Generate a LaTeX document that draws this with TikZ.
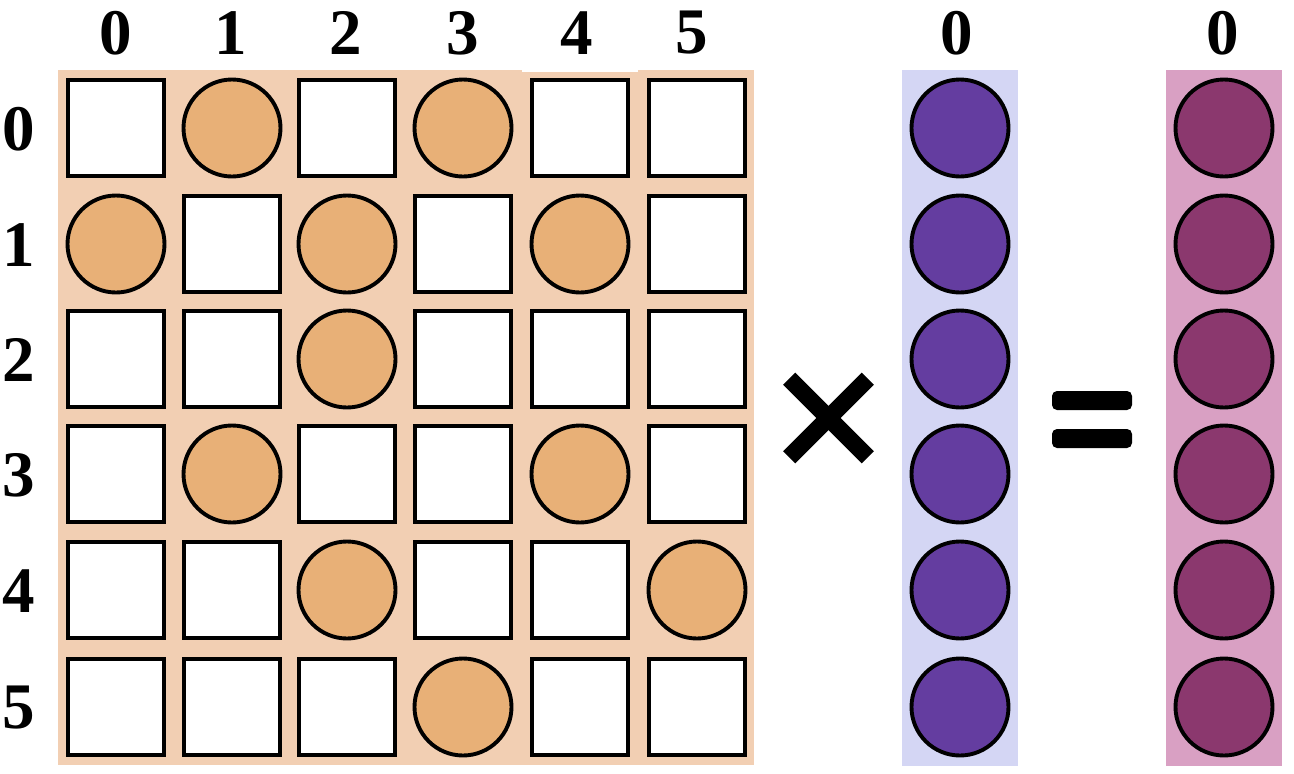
\documentclass[tikz,border=0pt]{standalone}
\usepackage{fontspec}
\setmainfont{Liberation Serif}
\newfontfamily\idxfont{Liberation Serif Bold}
\definecolor{matbg}{HTML}{F2CFB3}
\definecolor{matdot}{HTML}{E8B077}
\definecolor{vecbg}{HTML}{D4D6F4}
\definecolor{vecdot}{HTML}{643DA0}
\definecolor{resbg}{HTML}{D9A0C3}
\definecolor{resdot}{HTML}{8B386E}
\tikzset{
  cellbox/.style={draw=black, line width=4.3pt, fill=white, minimum size=95.7pt, inner sep=0pt, outer sep=0pt},
  dot/.style={circle, draw=black, line width=3.9pt, minimum size=97pt, inner sep=0pt, outer sep=0pt},
  idx/.style={font=\idxfont\fontsize{65}{65}\selectfont, inner sep=0pt}
}
\begin{document}
\begin{tikzpicture}[x=1pt,y=-1pt]
\useasboundingbox (0,0) rectangle (1294,774);
% backgrounds
\fill[matbg] (58,70) rectangle (754,765);
\fill[white] (522,70) rectangle (638,72);
\fill[vecbg] (902,70) rectangle (1018,766);
\fill[resbg] (1166,70) rectangle (1282,766);
% grid
\def\colx{{116,232,347,463,580,697}}
\def\rowy{{128,244,359,474,590,707}}
\foreach \r/\pat in {0/{0,1,0,1,0,0},1/{1,0,1,0,1,0},2/{0,0,1,0,0,0},3/{0,1,0,0,1,0},4/{0,0,1,0,0,1},5/{0,0,0,1,0,0}}{
  \foreach \t [count=\ci from 0] in \pat{
    \pgfmathsetmacro{\xx}{\colx[\ci]}
    \pgfmathsetmacro{\yy}{\rowy[\r]}
    \ifnum\t=1
      \node[dot, fill=matdot] (m-\r-\ci) at (\xx,\yy) {};
    \else
      \node[cellbox] (m-\r-\ci) at (\xx,\yy) {};
    \fi
  }
}
% column labels
\foreach \c/\lx in {0/116,1/231,2/346,3/463,4/577,5/692}{
  \node[idx] (cl-\c) at (\lx,33) {\c};
}
% row labels
\foreach \r in {0,...,5}{
  \pgfmathsetmacro{\yy}{\rowy[\r]+1}
  \node[idx] (rl-\r) at (19,\yy) {\r};
}
% vector and result
\foreach \r in {0,...,5}{
  \pgfmathsetmacro{\yy}{\rowy[\r]}
  \node[dot, fill=vecdot] (v-\r) at (960,\yy) {};
  \node[dot, fill=resdot] (res-\r) at (1224,\yy) {};
}
\node[idx] (vl) at (957,33) {0};
\node[idx] (rsl) at (1223,33) {0};
% times sign
\coordinate (tc) at (828.5,418);
\draw[line width=17pt, line cap=butt] ([shift={(-39.3,-39.3)}]tc) -- ([shift={(39.3,39.3)}]tc);
\draw[line width=17pt, line cap=butt] ([shift={(-39.3,39.3)}]tc) -- ([shift={(39.3,-39.3)}]tc);
% equals sign
\fill[black, rounded corners=5pt] (1052,391) rectangle (1132,410);
\fill[black, rounded corners=5pt] (1052,429) rectangle (1132,448);
\end{tikzpicture}
\end{document}
